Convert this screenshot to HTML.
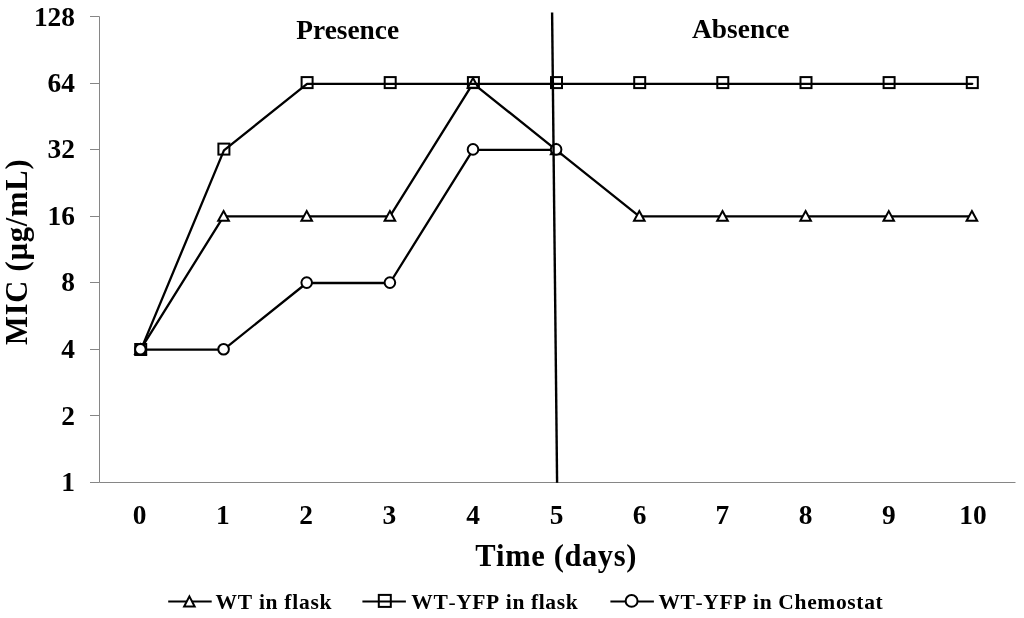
<!DOCTYPE html>
<html><head><meta charset="utf-8"><title>MIC chart</title>
<style>
html,body{margin:0;padding:0;background:#fff;}
body{width:1024px;height:618px;overflow:hidden;}
svg{display:block;}
text{font-family:"Liberation Serif","DejaVu Serif",serif;font-weight:bold;fill:#000;}
.tk{font-size:27.4px;}
.ax{stroke:#868686;stroke-width:1;fill:none;}
.ln{stroke:#000;stroke-width:2.3;fill:none;stroke-linejoin:round;stroke-linecap:round;}
.mk{stroke:#000;stroke-width:2;}
</style></head><body>
<svg width="1024" height="618" viewBox="0 0 1024 618">
<rect width="1024" height="618" fill="#fff"/>
<path class="ax" d="M99.5 16.5V482.5M99.5 482.5H1015.5"/>
<path class="ax" d="M90.0 482.5H99.5M90.0 415.5H99.5M90.0 349.5H99.5M90.0 282.5H99.5M90.0 216.5H99.5M90.0 149.5H99.5M90.0 83.5H99.5M90.0 16.5H99.5"/>
<text class="tk" x="75.0" y="490.6" text-anchor="end">1</text>
<text class="tk" x="75.0" y="424.5" text-anchor="end">2</text>
<text class="tk" x="75.0" y="358.0" text-anchor="end">4</text>
<text class="tk" x="75.0" y="291.4" text-anchor="end">8</text>
<text class="tk" x="75.0" y="224.8" text-anchor="end">16</text>
<text class="tk" x="75.0" y="158.2" text-anchor="end">32</text>
<text class="tk" x="75.0" y="91.7" text-anchor="end">64</text>
<text class="tk" x="75.0" y="25.7" text-anchor="end">128</text>
<text class="tk" x="139.7" y="523.6" text-anchor="middle">0</text>
<text class="tk" x="222.9" y="523.6" text-anchor="middle">1</text>
<text class="tk" x="306.2" y="523.6" text-anchor="middle">2</text>
<text class="tk" x="389.4" y="523.6" text-anchor="middle">3</text>
<text class="tk" x="473.2" y="523.6" text-anchor="middle">4</text>
<text class="tk" x="556.5" y="523.6" text-anchor="middle">5</text>
<text class="tk" x="639.7" y="523.6" text-anchor="middle">6</text>
<text class="tk" x="722.3" y="523.6" text-anchor="middle">7</text>
<text class="tk" x="805.5" y="523.6" text-anchor="middle">8</text>
<text class="tk" x="888.8" y="523.6" text-anchor="middle">9</text>
<text class="tk" x="973.0" y="523.6" text-anchor="middle">10</text>
<polyline class="ln" points="140.4,349.6 223.6,216.4 306.7,216.4 389.9,216.4 473.0,83.3 556.1,149.8 639.3,216.4 722.5,216.4 805.6,216.4 888.8,216.4 971.9,216.4"/>
<path class="mk" fill="#fff" d="M140.4 344.3L145.7 354.0H135.1Z"/>
<path class="mk" fill="#fff" d="M223.6 211.1L228.9 220.8H218.2Z"/>
<path class="mk" fill="#fff" d="M306.7 211.1L312.0 220.8H301.4Z"/>
<path class="mk" fill="#fff" d="M389.9 211.1L395.2 220.8H384.6Z"/>
<path class="mk" fill="#fff" d="M473.0 78.0L478.3 87.7H467.7Z"/>
<path class="mk" fill="#fff" d="M556.1 144.5L561.4 154.2H550.9Z"/>
<path class="mk" fill="#fff" d="M639.3 211.1L644.6 220.8H634.0Z"/>
<path class="mk" fill="#fff" d="M722.5 211.1L727.8 220.8H717.2Z"/>
<path class="mk" fill="#fff" d="M805.6 211.1L810.9 220.8H800.3Z"/>
<path class="mk" fill="#fff" d="M888.8 211.1L894.0 220.8H883.5Z"/>
<path class="mk" fill="#fff" d="M971.9 211.1L977.2 220.8H966.6Z"/>
<polyline class="ln" transform="translate(0.35,0.55)" points="140.4,349.6 223.6,149.8 306.7,83.3 389.9,83.3 473.0,83.3 556.1,83.3 639.3,83.3 722.5,83.3 805.6,83.3 888.8,83.3 971.9,83.3"/>
<rect class="mk" fill="none" x="135.2" y="344.0" width="11" height="11"/>
<rect class="mk" fill="none" x="218.4" y="143.6" width="11" height="11"/>
<rect class="mk" fill="none" x="301.6" y="77.1" width="11" height="11"/>
<rect class="mk" fill="none" x="384.7" y="77.1" width="11" height="11"/>
<rect class="mk" fill="none" x="467.9" y="77.1" width="11" height="11"/>
<rect class="mk" fill="none" x="551.0" y="77.1" width="11" height="11"/>
<rect class="mk" fill="none" x="634.2" y="77.1" width="11" height="11"/>
<rect class="mk" fill="none" x="717.3" y="77.1" width="11" height="11"/>
<rect class="mk" fill="none" x="800.5" y="77.1" width="11" height="11"/>
<rect class="mk" fill="none" x="883.6" y="77.1" width="11" height="11"/>
<rect class="mk" fill="none" x="966.8" y="77.1" width="11" height="11"/>
<polyline class="ln" points="140.4,349.6 223.6,349.6 306.7,283.0 389.9,283.0 473.0,149.8 556.1,149.8"/>
<circle class="mk" fill="#fff" cx="140.4" cy="349.2" r="5.3"/>
<circle class="mk" fill="#fff" cx="223.6" cy="349.2" r="5.3"/>
<circle class="mk" fill="#fff" cx="306.7" cy="282.6" r="5.3"/>
<circle class="mk" fill="#fff" cx="389.9" cy="282.6" r="5.3"/>
<circle class="mk" fill="#fff" cx="473.0" cy="149.4" r="5.3"/>
<circle class="mk" fill="#fff" cx="556.1" cy="149.4" r="5.3"/>
<line x1="552.1" y1="12.4" x2="557.1" y2="482.8" stroke="#000" stroke-width="2.4"/>
<text x="347.7" y="39.4" font-size="27.4" text-anchor="middle">Presence</text>
<text x="740.8" y="38.4" font-size="27.4" text-anchor="middle">Absence</text>
<text x="556.1" y="566" font-size="30.5" style="letter-spacing:0.62px;font-kerning:none" text-anchor="middle">Time (days)</text>
<text transform="translate(27.4,251.8) rotate(-90)" font-size="30.5" style="letter-spacing:0.78px;font-kerning:none" text-anchor="middle">MIC (µg/mL)</text>
<line class="ln" style="stroke-linecap:butt;stroke-width:2" x1="168.2" y1="601.4" x2="211.7" y2="601.4"/>
<path class="mk" fill="#fff" d="M189.40 596.34L194.67 606.60H184.13Z"/>
<text x="215.5" y="609.4" font-size="21.5" style="font-kerning:none;letter-spacing:0.72px">WT in flask</text>
<line class="ln" style="stroke-linecap:butt;stroke-width:2" x1="362.4" y1="601.4" x2="405.9" y2="601.4"/>
<rect class="mk" fill="none" x="378.8" y="594.9" width="12" height="12"/>
<text x="411.3" y="609.4" font-size="21.5" style="font-kerning:none;letter-spacing:0.62px">WT<tspan font-weight="normal">-</tspan>YFP in flask</text>
<line class="ln" style="stroke-linecap:butt;stroke-width:2" x1="610.4" y1="601.4" x2="653.9" y2="601.4"/>
<circle class="mk" fill="#fff" cx="631.6" cy="600.9" r="5.95"/>
<text x="658.4" y="609.4" font-size="21.5" style="font-kerning:none;letter-spacing:0.65px">WT<tspan font-weight="normal">-</tspan>YFP in Chemostat</text>
</svg></body></html>
